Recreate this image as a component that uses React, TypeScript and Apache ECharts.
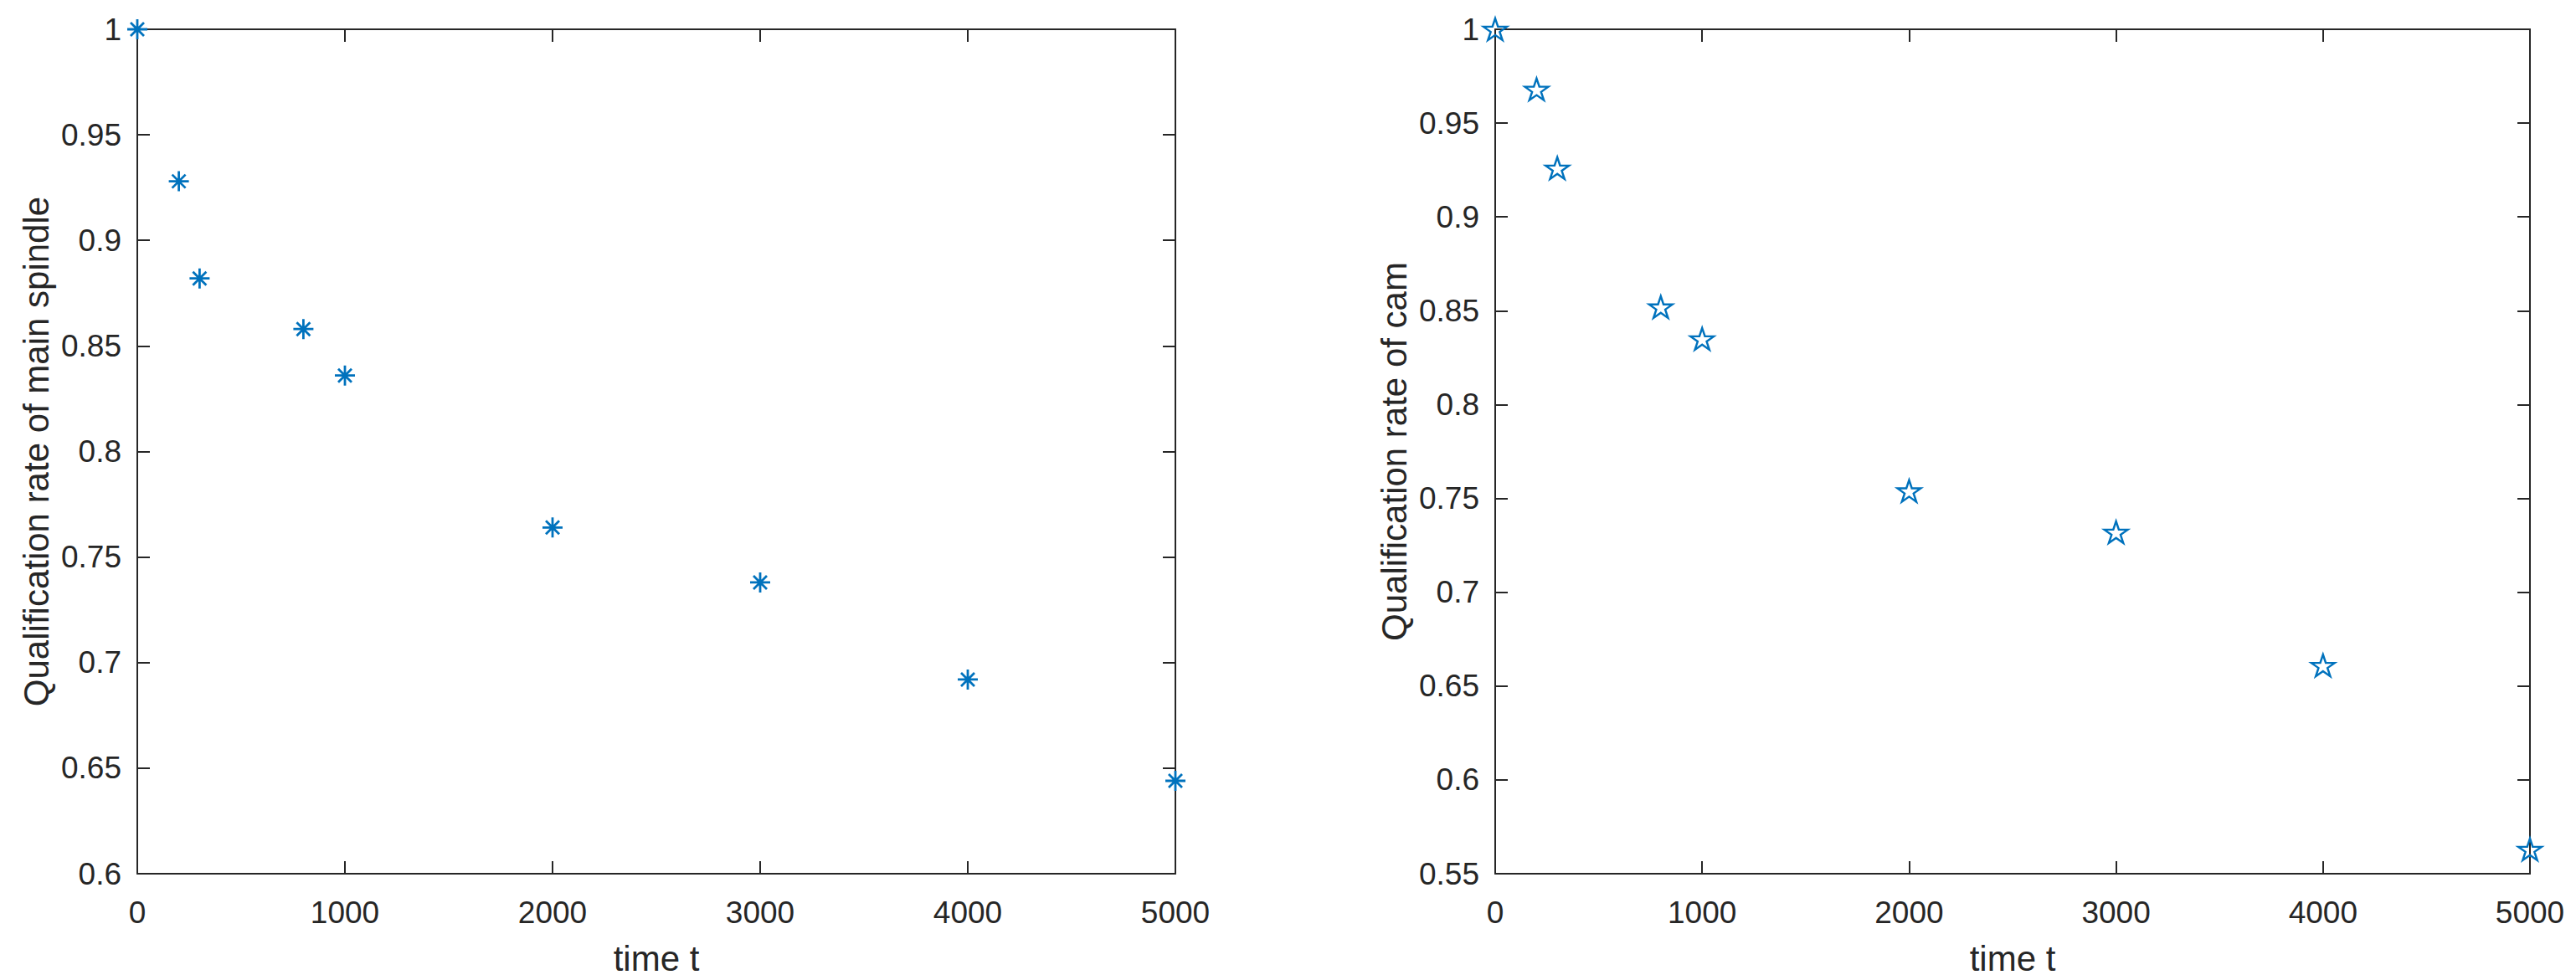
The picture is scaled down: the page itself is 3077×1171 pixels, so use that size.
import React, { useEffect, useRef } from "react";
import * as echarts from "echarts";

const timeT = [0, 200, 300, 800, 1000, 2000, 3000, 4000, 5000];
const spindleRate = [1.0, 0.928, 0.882, 0.858, 0.836, 0.764, 0.738, 0.692, 0.644];
const camRate = [1.0, 0.968, 0.926, 0.852, 0.835, 0.754, 0.732, 0.661, 0.563];
const xLabel = "time t";
const yLabelLeft = "Qualification rate of main spindle";
const yLabelRight = "Qualification rate of cam";

const FONT = "'Liberation Sans', Arial, Helvetica, sans-serif";
const AX = "#262626";
const BLUE = "#0072BD";

const ASTERISK = "path://M0 12 L24 12 M12 0 L12 24 M4 4 L20 20 M20 4 L4 20";
const STAR =
  "path://M50 0 L61.23 34.55 L97.55 34.55 L68.16 55.9 L79.39 90.45 L50 69.1 L20.61 90.45 L31.84 55.9 L2.45 34.55 L38.77 34.55 Z";

const fmt = (v: number) => String(parseFloat(v.toFixed(2)));

function xAxes(gridIndex: number) {
  const base = {
    type: "value",
    gridIndex,
    min: 0,
    max: 5000,
    interval: 1000,
    splitLine: { show: false },
    axisLine: { show: true, onZero: false, lineStyle: { color: AX, width: 2 } },
    axisTick: { show: true, inside: true, length: 15, lineStyle: { color: AX, width: 2 } },
  };
  return [
    {
      ...base,
      position: "bottom",
      name: xLabel,
      nameLocation: "middle",
      nameGap: 80,
      nameTextStyle: { fontFamily: FONT, fontSize: 42, color: AX },
      axisLabel: { show: true, margin: 28, fontFamily: FONT, fontSize: 37, color: AX, formatter: fmt },
    },
    { ...base, position: "top", axisLabel: { show: false } },
  ];
}

function yAxes(gridIndex: number, min: number, name: string) {
  const base = {
    type: "value",
    gridIndex,
    min,
    max: 1,
    interval: 0.05,
    splitLine: { show: false },
    axisLine: { show: true, onZero: false, lineStyle: { color: AX, width: 2 } },
    axisTick: { show: true, inside: true, length: 15, lineStyle: { color: AX, width: 2 } },
  };
  return [
    {
      ...base,
      position: "left",
      name,
      nameLocation: "middle",
      nameGap: 100,
      nameTextStyle: { fontFamily: FONT, fontSize: 42, color: AX },
      axisLabel: { show: true, margin: 19, fontFamily: FONT, fontSize: 37, color: AX, formatter: fmt },
    },
    { ...base, position: "right", axisLabel: { show: false } },
  ];
}

export default function App() {
  const ref = useRef<HTMLDivElement>(null);
  useEffect(() => {
    if (!ref.current) return;
    const chart = echarts.init(ref.current, null, { renderer: "svg" });
    chart.setOption({
      animation: false,
      backgroundColor: "#ffffff",
      grid: [
        { left: 164, top: 35, width: 1240, height: 1009 },
        { left: 1786, top: 35, width: 1236, height: 1009 },
      ],
      xAxis: [...xAxes(0), ...xAxes(1)],
      yAxis: [...yAxes(0, 0.6, yLabelLeft), ...yAxes(1, 0.55, yLabelRight)],
      series: [
        {
          type: "scatter",
          xAxisIndex: 0,
          yAxisIndex: 0,
          clip: false,
          data: timeT.map((t, i) => [t, spindleRate[i]]),
          symbol: ASTERISK,
          symbolSize: 24,
          itemStyle: { color: "none", borderColor: BLUE, borderWidth: 2.8, opacity: 1 },
        },
        {
          type: "scatter",
          xAxisIndex: 2,
          yAxisIndex: 2,
          clip: false,
          data: timeT.map((t, i) => [t, camRate[i]]),
          symbol: STAR,
          symbolSize: [28, 26],
          itemStyle: { color: "none", borderColor: BLUE, borderWidth: 2.4, opacity: 1 },
        },
      ],
    });
    return () => chart.dispose();
  }, []);
  return (
    <div
      ref={ref}
      style={{ position: "absolute", left: 0, top: 0, width: 3077, height: 1171, background: "#fff" }}
    />
  );
}
